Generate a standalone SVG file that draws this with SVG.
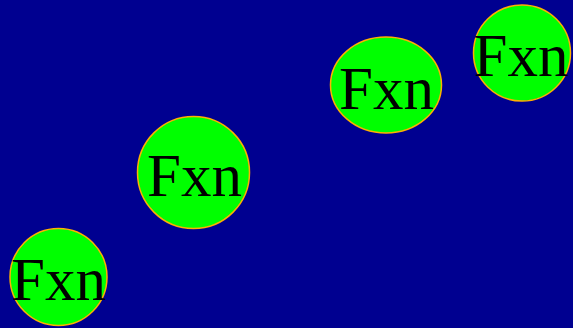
<svg xmlns="http://www.w3.org/2000/svg" width="573" height="328" viewBox="0 0 573 328">
<style>
.n{fill:#00FF00;stroke:#FFB000;stroke-width:1.5}
.t{font-family:"Liberation Serif","Times New Roman",serif;font-size:61px;fill:#000;text-anchor:middle}
</style>
<rect width="573" height="328" fill="#000090"/>
<g id="connectors"/>
<g id="node1"><ellipse class="n" cx="58.5" cy="277" rx="48.5" ry="48.5"/><text class="t" x="58.5" y="300">Fxn</text></g>
<g id="node2"><ellipse class="n" cx="193.5" cy="172.5" rx="56" ry="56"/><text class="t" x="194.5" y="196">Fxn</text></g>
<g id="node3"><ellipse class="n" cx="386" cy="85" rx="55.5" ry="48"/><text class="t" x="386.5" y="109">Fxn</text></g>
<g id="node4"><ellipse class="n" cx="522" cy="53" rx="48.5" ry="48"/><text class="t" x="521" y="76">Fxn</text></g>
</svg>
